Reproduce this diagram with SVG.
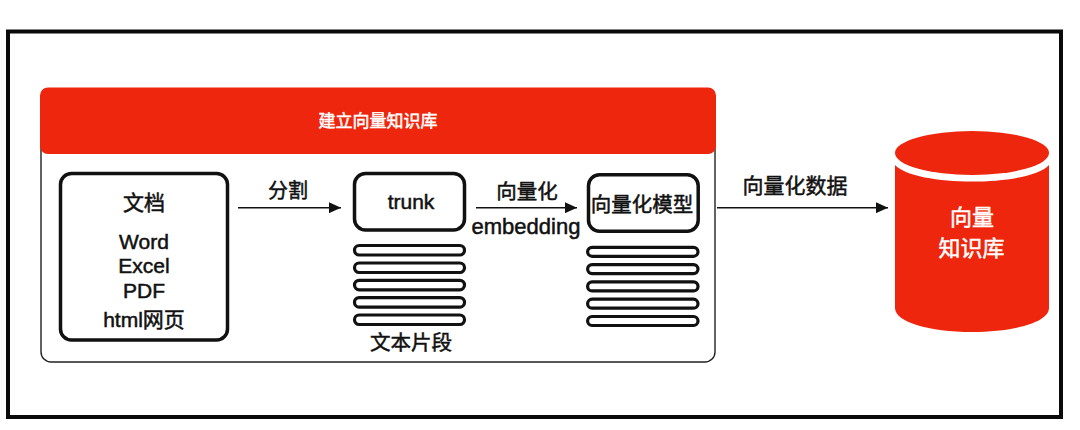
<svg xmlns="http://www.w3.org/2000/svg" width="1080" height="430" viewBox="0 0 1080 430">
<defs>
<marker id="ah" viewBox="0 0 12 11" refX="12" refY="5.5" markerUnits="userSpaceOnUse" markerWidth="12" markerHeight="11" orient="auto"><path d="M0 0L12 5.500L0 11Z" fill="#111"/></marker>
</defs>
<style>
text{font-family:"Liberation Sans","Noto Sans CJK SC",sans-serif;text-anchor:middle;fill:#111}
.l{font-size:21px;stroke:#111;stroke-width:.5px}
.w{fill:#fff;stroke:#fff;stroke-width:.5px}
.box{fill:#fff;stroke:#111;stroke-width:3.5}
.bar{fill:#fff;stroke:#111;stroke-width:3.2}
.c{fill:none;stroke:#111;stroke-width:1.6;marker-end:url(#ah)}
</style>
<rect width="1080" height="430" fill="#fff"/>
<rect id="frame" x="8" y="31.500" width="1053" height="385.500" fill="none" stroke="#0a0a0a" stroke-width="4"/>
<g id="panel">
<rect x="41" y="100" width="674" height="262" rx="10" fill="#fff" stroke="#222" stroke-width="1.400"/>
<rect x="40" y="87.500" width="676" height="66.500" rx="8" fill="#ee260d"/>
<text x="378" y="127" class="w" style="font-size:17px">建立向量知识库</text>
</g>
<g id="doc">
<rect class="box" x="60.500" y="173.500" width="167" height="166.500" rx="11"/>
<text x="144" y="210" class="l">文档</text>
<text x="144" y="249" class="l">Word</text>
<text x="144" y="273" class="l">Excel</text>
<text x="144" y="298" class="l">PDF</text>
<text x="144" y="327" class="l">html网页</text>
</g>
<g id="trunk">
<rect class="box" x="354.500" y="173.500" width="110" height="56.500" rx="11"/>
<text x="411" y="209" class="l">trunk</text>
</g>
<g id="trunk-segments">
<rect class="bar" x="354.500" y="245.500" width="110" height="9.500" rx="4.700"/>
<rect class="bar" x="354.500" y="263" width="110" height="9.500" rx="4.700"/>
<rect class="bar" x="354.500" y="280.300" width="110" height="9.500" rx="4.700"/>
<rect class="bar" x="354.500" y="297.600" width="110" height="9.500" rx="4.700"/>
<rect class="bar" x="354.500" y="315" width="110" height="9.500" rx="4.700"/>
<text x="411" y="350" class="l" style="font-size:20.500px">文本片段</text>
</g>
<g id="model">
<rect class="box" x="588.500" y="174.800" width="109.700" height="56.500" rx="11"/>
<text x="642" y="212" class="l" style="font-size:20.500px">向量化模型</text>
</g>
<g id="model-segments">
<rect class="bar" x="587.600" y="247.300" width="110.400" height="9" rx="4.500"/>
<rect class="bar" x="587.600" y="264.600" width="110.400" height="9" rx="4.500"/>
<rect class="bar" x="587.600" y="281.900" width="110.400" height="9" rx="4.500"/>
<rect class="bar" x="587.600" y="299.200" width="110.400" height="9" rx="4.500"/>
<rect class="bar" x="587.600" y="316.500" width="110.400" height="9" rx="4.500"/>
</g>
<g id="connectors">
<path class="c" d="M238 207.700H341"/>
<path class="c" d="M476 207.700H577"/>
<path class="c" d="M717 207.700H888"/>
<text x="288" y="198" class="l" style="font-size:20px">分割</text>
<text x="527" y="198.500" class="l" style="font-size:20.500px">向量化</text>
<text x="526" y="234" class="l" style="font-size:22px">embedding</text>
<text x="795" y="193" class="l">向量化数据</text>
</g>
<g id="vector-db">
<path d="M895 165C915 187 1029 187 1049 165V308C1049 322 1015 332 972 332C929 332 895 322 895 308Z" fill="#ee260d"/>
<ellipse cx="972" cy="153" rx="77" ry="22" fill="#ee260d"/>
<text x="972" y="225" class="w" style="font-size:22px">向量</text>
<text x="971.500" y="256" class="w" style="font-size:22px">知识库</text>
</g>
</svg>
